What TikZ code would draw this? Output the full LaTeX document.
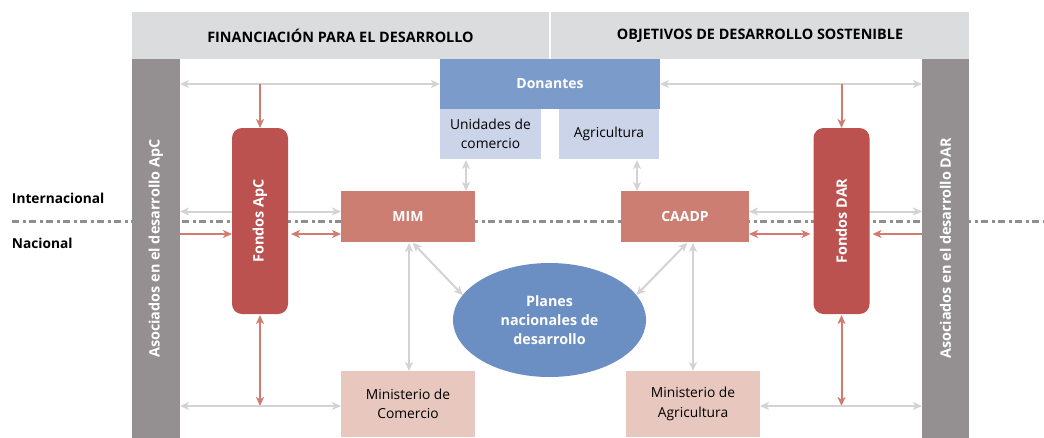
\documentclass[tikz,border=0pt]{standalone}
\usepackage{fontspec}
\setmainfont{Open Sans}
\usetikzlibrary{arrows.meta,backgrounds,shapes.geometric}
\definecolor{hdrgray}{HTML}{DBDCDE}
\definecolor{bargray}{HTML}{948F90}
\definecolor{donblue}{HTML}{7B9CCB}
\definecolor{unitblue}{HTML}{CBD4E9}
\definecolor{fondred}{HTML}{BC524F}
\definecolor{mimred}{HTML}{CD7E73}
\definecolor{minpink}{HTML}{E8C7BE}
\definecolor{planblue}{HTML}{6C8FC3}
\definecolor{garrc}{HTML}{D3D3D3}
\definecolor{rarrc}{HTML}{D27B71}
\definecolor{dashc}{HTML}{8E8E8E}
\tikzset{
  gtip/.tip={Stealth[length=9pt,width=8pt,inset=2.5pt]},
  basebox/.style={draw=none, inner sep=0pt, outer sep=0pt, align=center},
  hdrbox/.style={basebox, fill=hdrgray, minimum height=47pt, font=\bfseries\fontsize{14.4}{17}\selectfont},
  barbox/.style={basebox, fill=bargray, minimum height=379pt},
  bartext/.style={rotate=90, text=white, font=\bfseries\fontsize{14.4}{17}\selectfont},
  donbox/.style={basebox, fill=donblue, text=white, font=\bfseries\fontsize{14}{17}\selectfont},
  unitbox/.style={basebox, fill=unitblue, minimum height=50pt, font=\fontsize{13.8}{19.5}\selectfont},
  fondbox/.style={basebox, fill=fondred, rounded corners=10pt, minimum width=56pt, minimum height=186pt},
  mimbox/.style={basebox, fill=mimred, text=white, minimum height=51pt, font=\bfseries\fontsize{14}{17}\selectfont},
  minbox/.style={basebox, fill=minpink, minimum height=66pt, font=\fontsize{13.8}{19.5}\selectfont},
  planbox/.style={basebox, ellipse, fill=planblue, text=white, minimum width=193pt, minimum height=114pt, font=\bfseries\fontsize{14.3}{19}\selectfont},
  lvl/.style={basebox, anchor=west, font=\bfseries\fontsize{13.7}{16}\selectfont},
  g2/.style={draw=garrc, line width=2pt, gtip-gtip},
  r2/.style={draw=rarrc, line width=2pt, gtip-gtip},
  r1/.style={draw=rarrc, line width=2pt, -gtip},
  dashdot/.style={draw=dashc, line width=2.6pt, dash pattern=on 7pt off 3.5pt on 3pt off 3.5pt}
}
\begin{document}
\begin{tikzpicture}[x=1pt,y=-1pt]
\useasboundingbox (0,0) rectangle (1044,437);
% headers
\node[hdrbox, minimum width=417pt] (hdrL) at (340.5,35.5) {FINANCIACIÓN PARA EL DESARROLLO};
\node[hdrbox, minimum width=418pt] (hdrR) at (760,35.5) {OBJETIVOS DE DESARROLLO SOSTENIBLE};
% side bars
\node[barbox, minimum width=48pt] (barL) at (156,248.5) {};
\node[bartext] (barLt) at (barL.center) {Asociados en el desarrollo ApC};
\node[barbox, minimum width=47pt] (barR) at (945.5,248.5) {};
\node[bartext] (barRt) at (barR.center) {Asociados en el desarrollo DAR};
% donors
\node[donbox, minimum width=220pt, minimum height=50pt] (don) at (550,84) {Donantes};
\node[unitbox, minimum width=101pt] (unid) at (490.5,134) {Unidades de\\comercio};
\node[unitbox, minimum width=100pt] (agr) at (609,134) {Agricultura};
% funds
\node[fondbox] (fApC) at (260,221) {};
\node[bartext] (fApCt) at (fApC.center) {Fondos ApC};
\node[fondbox] (fDAR) at (841.5,221) {};
\node[bartext] (fDARt) at (fDAR.center) {Fondos DAR};
% MIM / CAADP
\node[mimbox, minimum width=134pt] (mim) at (408,216.5) {MIM};
\node[mimbox, minimum width=128pt] (cadp) at (685,216.5) {CAADP};
% ministries
\node[minbox, minimum width=134pt] (mincom) at (408,404) {Ministerio de\\Comercio};
\node[minbox, minimum width=134pt] (minagr) at (693,404) {Ministerio de\\Agricultura};
% plans
\node[planbox] (plan) at (549.5,320) {Planes\\nacionales de\\desarrollo};
% levels
\node[lvl] (intl) at (12,198) {Internacional};
\node[lvl] (nacl) at (12,243) {Nacional};
% helper coordinates
\coordinate (ytop) at (0,84);
\coordinate (ygray) at (0,211.5);
\coordinate (yred) at (0,234);
\coordinate (ybot) at (0,406);
\coordinate (xa) at (466,0);
\coordinate (xb) at (637,0);
\coordinate (xc) at (409,0);
\coordinate (xd) at (693,0);
\coordinate (xe) at (412,0);
\coordinate (xf) at (688,0);
\coordinate (lineL) at (12,221.5);
\coordinate (lineR) at (1044,221.5);
\begin{scope}[on background layer]
  \draw[dashdot] (lineL) -- (lineR);
  \draw[g2] (barL.east |- ygray) -- (mim.west |- ygray);
  \draw[g2] (cadp.east |- ygray) -- (barR.west |- ygray);
\end{scope}
% top arrows
\draw[g2] (barL.east |- ytop) -- (don.west |- ytop);
\draw[g2] (don.east |- ytop) -- (barR.west |- ytop);
\coordinate (jL) at (fApC.north |- ytop);
\coordinate (jR) at (fDAR.north |- ytop);
\draw[r1] (jL) -- (fApC.north);
\draw[r1] (jR) -- (fDAR.north);
% red horizontal
\draw[r1] (barL.east |- yred) -- (fApC.west |- yred);
\draw[r2, shorten <=3pt] (fApC.east |- yred) -- (mim.west |- yred);
\draw[r2, shorten >=3pt] (cadp.east |- yred) -- (fDAR.west |- yred);
\draw[r1, shorten >=3pt] (barR.west |- yred) -- (fDAR.east |- yred);
% vertical gray
\draw[g2, shorten <=1pt] (unid.south -| xa) -- (mim.north -| xa);
\draw[g2, shorten <=1pt] (agr.south -| xb) -- (cadp.north -| xb);
\draw[g2, shorten <=1pt] (mim.south -| xc) -- (mincom.north -| xc);
\draw[g2, shorten <=1pt] (cadp.south -| xd) -- (minagr.north -| xd);
% diagonals to plans
\draw[g2, shorten <=1pt] (mim.south -| xe) -- (plan.164);
\draw[g2, shorten <=1pt] (cadp.south -| xf) -- (plan.16);
% bottom
\draw[r2, shorten <=1pt] (fApC.south) -- (fApC.south |- ybot);
\draw[r2, shorten <=1pt] (fDAR.south) -- (fDAR.south |- ybot);
\draw[g2] (barL.east |- ybot) -- (mincom.west |- ybot);
\draw[g2] (minagr.east |- ybot) -- (barR.west |- ybot);
\end{tikzpicture}
\end{document}
